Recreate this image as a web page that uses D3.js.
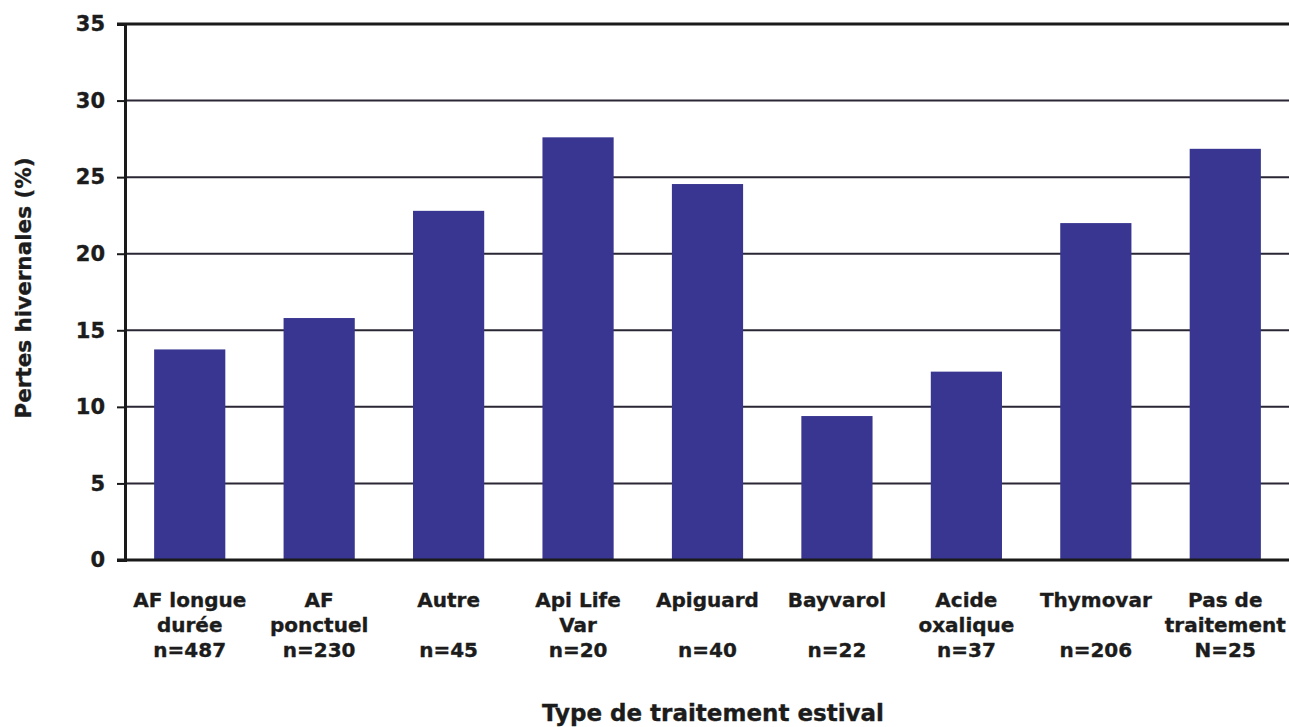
<!DOCTYPE html>
<html>
<head>
<meta charset="utf-8">
<script src="https://cdn.jsdelivr.net/npm/d3@7"></script>
<style>
  html, body { margin: 0; padding: 0; background: #fff; }
  svg { display: block; }
  text { font-family: "DejaVu Sans", "Liberation Sans", Arial, sans-serif; font-weight: bold; fill: #1c1c1c; stroke: #1c1c1c; stroke-width: 0.35px; }
</style>
</head>
<body>
<svg id="chart" width="1289" height="727"></svg>
<script>
// Treatment categories (each label split over lines) and winter losses (%)
const categories = [
  ["AF longue", "durée", "n=487"],
  ["AF", "ponctuel", "n=230"],
  ["Autre", "", "n=45"],
  ["Api Life", "Var", "n=20"],
  ["Apiguard", "", "n=40"],
  ["Bayvarol", "", "n=22"],
  ["Acide", "oxalique", "n=37"],
  ["Thymovar", "", "n=206"],
  ["Pas de", "traitement", "N=25"]
];
const losses = [13.75, 15.8, 22.8, 27.6, 24.55, 9.4, 12.3, 22.0, 26.85];
const yTicks = [0, 5, 10, 15, 20, 25, 30, 35];
const yTitle = "Pertes hivernales (%)";
const xTitle = "Type de traitement estival";

const svg = d3.select("#chart");
const W = 1289, H = 727;
const margin = { left: 125, right: -1, top: 24, bottom: 167 };
const x0 = margin.left, x1 = W - margin.right;
const yTop = margin.top, yBot = H - margin.bottom;

const x = d3.scaleBand()
  .domain(d3.range(categories.length))
  .range([x0, x1])
  .paddingInner(0.45)
  .paddingOuter(0.225);

const y = d3.scaleLinear().domain([0, 35]).range([yBot, yTop]);

// horizontal gridlines
svg.append("g")
  .selectAll("line")
  .data(yTicks.filter(t => t > 0 && t < 35))
  .join("line")
  .attr("x1", x0).attr("x2", W)
  .attr("y1", d => y(d)).attr("y2", d => y(d))
  .attr("stroke", "#2b2633").attr("stroke-width", 2);

// top frame line
svg.append("line")
  .attr("x1", x0 - 8).attr("x2", W)
  .attr("y1", y(35)).attr("y2", y(35))
  .attr("stroke", "#1a1a1a").attr("stroke-width", 3);

// bars
svg.append("g")
  .selectAll("rect")
  .data(losses)
  .join("rect")
  .attr("x", (d, i) => x(i))
  .attr("width", x.bandwidth())
  .attr("y", d => y(d))
  .attr("height", d => y(0) - y(d))
  .attr("fill", "#383690");

// y axis
const yAxis = d3.axisLeft(y).tickValues(yTicks).tickSize(8).tickPadding(12);
const gy = svg.append("g").attr("transform", `translate(${x0},0)`).call(yAxis);
gy.select(".domain").attr("stroke", "#1a1a1a").attr("stroke-width", 3);
gy.selectAll(".tick line").attr("stroke", "#1a1a1a").attr("stroke-width", 2);
gy.selectAll(".tick text")
  .attr("font-size", 21).attr("font-weight", "bold")
  .attr("font-family", "DejaVu Sans, Liberation Sans, Arial, sans-serif")
  .attr("fill", "#1c1c1c");

// x axis baseline
svg.append("line")
  .attr("x1", x0 - 8).attr("x2", W)
  .attr("y1", y(0)).attr("y2", y(0))
  .attr("stroke", "#1a1a1a").attr("stroke-width", 3);

// category labels
const lab = svg.append("g")
  .selectAll("text")
  .data(categories)
  .join("text")
  .attr("text-anchor", "middle")
  .attr("font-size", 20)
  .attr("x", (d, i) => x(i) + x.bandwidth() / 2);
lab.selectAll("tspan")
  .data(d => d)
  .join("tspan")
  .attr("x", function () { return d3.select(this.parentNode).attr("x"); })
  .attr("y", (d, j) => 607 + j * 25)
  .text(d => d);

// axis titles
svg.append("text")
  .attr("transform", `translate(31,${288}) rotate(-90)`)
  .attr("text-anchor", "middle")
  .attr("font-size", 21.5)
  .text(yTitle);

svg.append("text")
  .attr("x", 713).attr("y", 721)
  .attr("text-anchor", "middle")
  .attr("font-size", 23)
  .text(xTitle);
</script>
</body>
</html>
